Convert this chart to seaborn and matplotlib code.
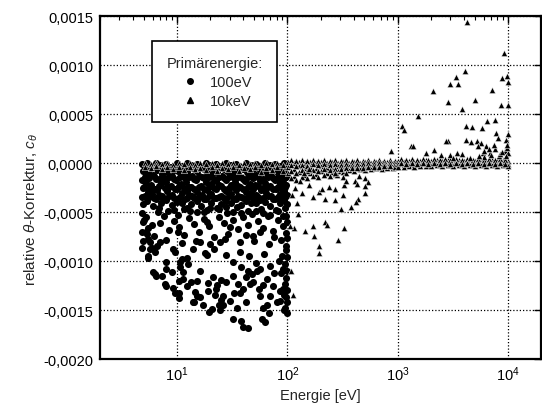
import matplotlib
matplotlib.use("Agg")
import pandas as pd
import seaborn as sns
import matplotlib.pyplot as plt
import matplotlib.ticker as mticker
from matplotlib.lines import Line2D

# values: (energy in eV, c_theta in units of 1e-4)
pts_100eV = [
    # dense band just below zero
    (4.8, -0.1), (4.9, -0.8), (4.8, -1.7), (4.9, -2.5), (4.8, -3.4), (4.9, -4.2), (4.8, -5.1),
    (4.9, -6.0), (4.8, -7.0), (4.9, -7.9), (4.8, -8.6),
    (5.3, 0.0), (5.4, -0.9), (5.2, -2.0), (5.4, -2.9), (5.3, -3.8), (5.2, -5.5), (5.3, -7.2),
    (5.9, -0.3), (6.0, -1.2), (5.8, -2.2), (5.9, -3.1), (6.1, -4.4), (5.9, -6.3),
    (6.5, 0.0), (6.6, -0.7), (6.4, -1.6), (6.6, -2.7), (6.5, -3.6), (6.7, -5.0),
    (7.2, -0.2), (7.3, -1.1), (7.1, -2.0), (7.3, -3.3), (7.2, -4.1),
    (8.0, -0.1), (8.1, -0.9), (7.9, -1.9), (8.1, -2.8), (8.0, -3.7), (8.2, -4.9),
    (8.9, -0.4), (9.0, -1.3), (8.8, -2.3), (9.0, -3.2), (8.9, -4.3),
    (9.9, 0.0), (10.1, -0.8), (9.8, -1.7), (10.0, -2.6), (9.9, -3.9), (10.1, -5.3),
    (11.0, -0.3), (11.2, -1.2), (10.9, -2.1), (11.1, -3.0), (11.0, -4.0),
    (12.2, 0.0), (12.4, -0.9), (12.1, -1.9), (12.3, -2.8), (12.2, -3.5), (12.4, -4.6),
    (13.5, -0.2), (13.7, -1.3), (13.4, -2.4), (13.6, -3.3), (13.5, -4.2),
    (15.0, -0.1), (15.2, -0.8), (14.8, -1.7), (15.1, -2.9), (15.0, -3.8), (15.3, -5.0),
    (16.6, -0.4), (16.8, -1.4), (16.5, -2.3), (16.7, -3.2), (16.6, -4.4),
    (18.4, 0.0), (18.6, -1.0), (18.2, -1.9), (18.5, -2.7), (18.4, -3.6), (18.7, -4.8),
    (20.4, -0.2), (20.7, -1.1), (20.2, -2.1), (20.5, -3.1), (20.4, -4.1),
    (22.6, -0.1), (22.9, -0.9), (22.4, -1.8), (22.7, -2.6), (22.6, -3.5), (23.0, -4.6),
    (25.0, -0.3), (25.4, -1.3), (24.8, -2.3), (25.2, -3.3), (25.0, -4.2),
    (27.8, 0.0), (28.1, -0.8), (27.5, -1.7), (27.9, -2.8), (27.8, -3.8), (28.3, -5.1),
    (30.8, -0.2), (31.2, -1.2), (30.5, -2.2), (31.0, -3.1), (30.8, -4.0),
    (34.0, -0.1), (34.5, -1.0), (33.7, -1.9), (34.2, -2.7), (34.0, -3.6), (34.6, -4.5),
    (37.8, -0.4), (38.3, -1.4), (37.4, -2.4), (38.0, -3.4), (37.8, -4.3),
    (42.0, 0.0), (42.6, -0.9), (41.5, -1.8), (42.3, -2.9), (42.0, -3.8),
    (46.5, -0.2), (47.1, -1.1), (46.0, -2.1), (46.8, -3.0), (46.5, -4.1), (47.3, -5.2),
    (51.5, -0.1), (52.2, -1.2), (51.0, -2.2), (51.8, -3.2), (51.5, -4.0),
    (57.0, -0.3), (57.8, -0.9), (56.4, -1.8), (57.3, -2.7), (57.0, -3.7), (58.0, -4.7),
    (63.0, 0.0), (63.9, -1.0), (62.3, -2.0), (63.4, -3.0), (63.0, -3.9),
    (70.0, -0.2), (71.0, -1.3), (69.2, -2.3), (70.4, -3.3), (70.0, -4.4),
    (78.0, -0.1), (79.0, -0.8), (77.1, -1.7), (78.4, -2.6), (78.0, -3.6), (79.3, -4.8),
    (86.0, -0.3), (87.1, -1.1), (85.0, -2.0), (86.5, -3.1), (86.0, -4.1),
    (93.0, 0.0), (94.0, -0.9), (92.0, -1.9), (93.5, -2.8), (93.0, -3.7), (94.3, -4.6),
    (99.0, -0.2), (100.0, -1.2), (98.0, -2.2), (99.5, -3.2), (99.0, -4.2),
    # in-between rows of the band
    (5.1, -0.5), (5.1, -1.4), (5.0, -2.4), (5.1, -3.3),
    (5.6, -0.6), (5.6, -1.5), (5.7, -2.5), (5.6, -3.4),
    (6.2, -0.4), (6.2, -1.3), (6.3, -2.6), (6.2, -3.5),
    (6.8, -0.5), (6.9, -1.6), (6.8, -2.3), (6.9, -3.2),
    (7.6, -0.6), (7.6, -1.5), (7.7, -2.5), (7.5, -3.6),
    (8.4, -0.4), (8.5, -1.4), (8.4, -2.4), (8.5, -3.3),
    (9.4, -0.7), (9.4, -1.6), (9.5, -2.6), (9.3, -3.5),
    (10.5, -0.5), (10.6, -1.4), (10.5, -2.3), (10.6, -3.4),
    (11.6, -0.6), (11.7, -1.5), (11.6, -2.5), (11.7, -3.6),
    (12.8, -0.4), (12.9, -1.4), (12.8, -2.4), (12.9, -3.2),
    (14.2, -0.6), (14.3, -1.6), (14.2, -2.6), (14.3, -3.5),
    (15.8, -0.5), (15.9, -1.3), (15.8, -2.4), (15.9, -3.4),
    (17.5, -0.6), (17.6, -1.5), (17.5, -2.6), (17.6, -3.6),
    (19.4, -0.4), (19.5, -1.4), (19.4, -2.4), (19.5, -3.3),
    (21.5, -0.6), (21.6, -1.6), (21.5, -2.5), (21.6, -3.5),
    (23.8, -0.5), (23.9, -1.4), (23.8, -2.2), (23.9, -3.4),
    (26.4, -0.6), (26.5, -1.5), (26.4, -2.6), (26.5, -3.5),
    (29.3, -0.4), (29.4, -1.4), (29.3, -2.5), (29.4, -3.3),
    (32.4, -0.6), (32.5, -1.5), (32.4, -2.4), (32.5, -3.6),
    (35.9, -0.5), (36.0, -1.4), (35.9, -2.3), (36.0, -3.3),
    (39.8, -0.6), (39.9, -1.6), (39.8, -2.6), (39.9, -3.5),
    (44.2, -0.4), (44.3, -1.4), (44.2, -2.4), (44.3, -3.4),
    (49.0, -0.6), (49.2, -1.5), (49.0, -2.6), (49.2, -3.5),
    (54.2, -0.5), (54.4, -1.4), (54.2, -2.3), (54.4, -3.4),
    (60.0, -0.6), (60.2, -1.6), (60.0, -2.5), (60.2, -3.5),
    (66.5, -0.4), (66.8, -1.4), (66.5, -2.4), (66.8, -3.3),
    (74.0, -0.6), (74.3, -1.5), (74.0, -2.6), (74.3, -3.6),
    (82.0, -0.5), (82.3, -1.4), (82.0, -2.4), (82.3, -3.4),
    (89.5, -0.6), (89.8, -1.6), (89.5, -2.5), (89.8, -3.5),
    (96.0, -0.5), (96.3, -1.4), (96.0, -2.4), (96.3, -3.3),
    # middle part
    (5.0, -5.8), (5.5, -6.6), (6.2, -7.4), (7.0, -6.1), (7.6, -5.4), (8.4, -6.8), (9.3, -5.9),
    (10.5, -6.5), (11.6, -7.3), (12.8, -5.6), (14.1, -6.2), (15.8, -7.0), (17.5, -5.7), (19.3, -6.4),
    (21.5, -7.5), (23.8, -5.5), (26.4, -6.1), (29.2, -7.2), (32.4, -5.8), (35.9, -6.7), (39.8, -5.5),
    (44.1, -6.3), (48.9, -7.4), (54.2, -5.9), (60.0, -6.6), (66.5, -5.4), (73.7, -6.9), (81.7, -5.8),
    (90.5, -6.4), (97.0, -7.1),
    (6.8, -4.6), (9.4, -4.8), (13.0, -4.9), (17.4, -5.0), (24.0, -4.7), (32.0, -5.0), (44.0, -4.9),
    (60.0, -5.1), (82.0, -4.9), (11.6, -4.7), (20.0, -4.6), (28.0, -4.5), (38.0, -5.1), (52.0, -4.9),
    (70.0, -5.3), (92.0, -5.4),
    (5.7, -8.0), (7.9, -7.8), (11.0, -8.1), (14.8, -7.9), (20.0, -8.2), (27.0, -7.7), (37.0, -8.0),
    (50.0, -7.9), (68.0, -8.2), (88.0, -7.8), (98.0, -8.4),
    (10.2, -7.0), (18.6, -6.0), (30.0, -6.5), (42.0, -7.3), (57.0, -7.0), (76.0, -7.5),
    # sparse lower part
    (5.2, -7.0), (5.4, -7.7), (5.7, -8.7), (5.5, -9.7), (6.6, -8.4), (7.0, -8.0), (6.1, -11.1),
    (6.5, -11.5), (8.0, -10.8), (7.9, -12.5), (9.2, -12.7), (10.3, -13.2), (11.3, -11.8),
    (12.2, -12.5), (14.3, -14.2), (15.1, -13.5), (17.3, -14.5), (19.3, -15.2), (22.7, -12.8),
    (24.0, -14.5), (26.0, -13.5), (28.0, -12.1), (32.0, -11.5), (37.0, -13.2), (42.0, -14.2),
    (49.0, -12.1), (56.0, -13.5), (65.0, -14.5), (74.0, -12.5), (80.0, -14.2),
    (14.0, -8.7), (16.0, -8.0), (18.6, -9.4), (21.4, -8.7), (24.4, -8.0), (28.0, -9.4),
    (10.7, -10.1), (9.2, -8.7), (12.2, -9.7), (32.0, -10.1), (37.0, -9.1), (56.0, -10.8),
    (18.0, -9.2), (16.0, -11.0), (15.0, -12.0), (19.0, -12.2), (21.0, -11.6), (23.0, -12.4),
    (25.0, -11.9), (14.5, -13.1), (16.0, -13.6), (19.0, -13.0), (22.0, -13.4), (25.0, -13.9),
    (20.6, -14.9), (24.4, -15.0), (26.0, -14.5), (32.0, -15.9), (38.0, -16.1), (40.0, -16.7),
    (44.0, -16.8), (59.0, -15.9), (63.0, -16.2),
    (33.0, -13.2), (36.0, -12.3), (40.0, -12.8), (46.0, -12.3), (48.0, -11.3), (53.0, -11.0),
    (55.0, -12.8), (60.0, -12.4), (44.0, -11.0), (42.0, -11.6), (38.0, -10.6),
    (45.0, -9.5), (52.0, -10.2), (62.0, -9.3), (70.0, -10.5), (75.0, -11.2), (66.0, -11.8),
    (70.0, -13.5), (85.0, -13.0), (60.0, -14.8), (68.0, -15.3), (35.0, -14.8), (30.0, -14.0),
    (5.9, -8.6), (6.3, -9.1), (5.5, -9.5), (8.0, -10.1), (9.5, -9.1), (11.0, -9.8), (10.6, -10.6),
    (12.6, -10.3), (6.3, -11.3), (7.3, -11.5), (9.0, -11.1), (11.4, -11.1), (10.3, -12.0),
    (7.7, -12.3), (9.5, -13.2), (10.3, -13.7), (13.5, -12.1), (14.0, -14.2),
    # column next to 100 eV
    (97.0, -8.8), (99.0, -9.6), (96.0, -10.3), (100.0, -11.0), (98.0, -11.7), (95.0, -12.3),
    (100.0, -12.9), (97.0, -13.6), (99.0, -14.2), (96.0, -14.8), (100.0, -15.3), (93.0, -15.0),
    (90.0, -9.5), (88.0, -11.2), (91.0, -12.8), (86.0, -14.0), (84.0, -10.0), (92.0, -10.8),
    (94.0, -13.4), (100.0, -6.0), (97.0, -5.4), (99.0, -7.6),
]

pts_10keV = [
    # grey band around zero
    (5.1, 0.0), (5.1, -0.4), (5.8, -0.1), (5.8, -0.5), (6.4, 0.0), (6.4, -0.3), (7.3, -0.1),
    (7.3, -0.6), (8.1, 0.0), (8.1, -0.4), (9.2, -0.2), (9.2, -0.6), (10.3, 0.0), (10.3, -0.4),
    (11.5, -0.1), (11.5, -0.7), (13.0, 0.0), (13.0, -0.4), (14.4, -0.2), (14.4, -0.6),
    (16.3, 0.0), (16.3, -0.5), (18.1, -0.1), (18.1, -0.7), (20.6, 0.0), (20.6, -0.4),
    (22.9, -0.2), (22.9, -0.8), (25.7, 0.0), (25.7, -0.5), (28.8, -0.1), (28.8, -0.6),
    (32.1, 0.0), (32.1, -0.4), (36.3, -0.2), (36.3, -0.8), (40.4, 0.0), (40.4, -0.5),
    (45.5, -0.1), (45.5, -0.6), (51.0, 0.0), (51.0, -0.4), (57.4, -0.2), (57.4, -0.9),
    (64.0, 0.0), (64.0, -0.5), (72.0, -0.1), (72.0, -0.7), (80.5, 0.0), (80.5, -0.4),
    (90.3, -0.2), (90.3, -0.8),
    (101, 0.1), (101, -0.4), (101, -1.0), (114, 0.0), (114, -0.6), (114, -1.3), (127, 0.1),
    (127, -0.3), (127, -0.9), (143, 0.0), (143, -0.5), (143, -1.2), (160, 0.1), (160, -0.4),
    (160, -1.0), (181, 0.0), (181, -0.6), (181, -1.1), (203, 0.1), (203, -0.3), (203, -0.8),
    (227, 0.0), (227, -0.5), (227, -1.0), (256, 0.1), (256, -0.4), (256, -0.9), (286, 0.0),
    (286, -0.3), (286, -0.8), (322, 0.1), (322, -0.4), (322, -0.9), (360, 0.0), (360, -0.3),
    (360, -0.7), (405, 0.1), (405, -0.4), (405, -0.8), (452, 0.0), (452, -0.3), (452, -0.6),
    (508, 0.1), (508, -0.3), (508, -0.7), (570, 0.0), (570, -0.3), (570, -0.6), (640, 0.1),
    (640, -0.2), (640, -0.5), (715, 0.0), (715, -0.3), (715, -0.6), (802, 0.1), (802, -0.2),
    (802, -0.5), (900, 0.0), (900, -0.3), (900, -0.5),
    (107, 0.3), (107, -0.2), (107, -0.8), (107, -1.5), (120, 0.2), (120, -0.3), (120, -1.0),
    (120, -1.7), (135, 0.3), (135, -0.2), (135, -0.7), (135, -1.4), (151, 0.2), (151, -0.3),
    (151, -0.8), (151, -1.5), (170, 0.3), (170, -0.1), (170, -0.7), (170, -1.3), (191, 0.2),
    (191, -0.2), (191, -0.8), (191, -1.4), (215, 0.3), (215, -0.1), (215, -0.6), (215, -1.2),
    (241, 0.2), (241, -0.2), (241, -0.7), (241, -1.3), (270, 0.3), (270, -0.1), (270, -0.6),
    (270, -1.1), (304, 0.2), (304, -0.2), (304, -0.6), (340, 0.3), (340, -0.1), (340, -0.5),
    (340, -1.0), (382, 0.2), (382, -0.2), (382, -0.5), (428, 0.3), (428, -0.1), (428, -0.5),
    (480, 0.2), (480, -0.1), (480, -0.5), (538, 0.3), (538, 0.0), (538, -0.4), (604, 0.2),
    (604, -0.1), (604, -0.4), (677, 0.3), (677, 0.0), (677, -0.4), (757, 0.2), (757, -0.1),
    (757, -0.3), (850, 0.3), (850, 0.0), (850, -0.3), (953, 0.2), (953, -0.1), (953, -0.4),
    (1010, 0.2), (1010, -0.1), (1010, -0.4), (1130, 0.1), (1130, -0.2), (1130, -0.4),
    (1270, 0.2), (1270, -0.1), (1270, -0.3), (1420, 0.1), (1420, -0.2), (1420, -0.4),
    (1600, 0.2), (1600, -0.1), (1600, -0.3), (1790, 0.3), (1790, 0.0), (1790, -0.3),
    (2010, 0.2), (2010, -0.1), (2010, -0.3), (2260, 0.3), (2260, 0.0), (2260, -0.2),
    (2530, 0.2), (2530, -0.1), (2530, -0.3), (2840, 0.3), (2840, 0.0), (2840, -0.2),
    (3180, 0.2), (3180, -0.1), (3180, -0.3), (3570, 0.3), (3570, 0.0), (3570, -0.2),
    (4010, 0.2), (4010, -0.1), (4010, -0.3), (4490, 0.3), (4490, 0.0), (4490, -0.2),
    (5050, 0.2), (5050, -0.1), (5050, -0.3), (5660, 0.3), (5660, 0.0), (5660, -0.2),
    (6350, 0.2), (6350, -0.1), (6350, -0.3), (7120, 0.3), (7120, 0.0), (7120, -0.2),
    (7990, 0.2), (7990, -0.1), (7990, -0.3), (8960, 0.3), (8960, 0.0), (8960, -0.2),
    (9900, 0.2), (9900, -0.1), (9900, -0.3),
    (1070, 0.4), (1070, 0.0), (1200, 0.3), (1200, -0.1), (1345, 0.4), (1345, 0.0),
    (1510, 0.3), (1510, -0.1), (1695, 0.4), (1695, 0.0), (1900, 0.3), (1900, -0.1),
    (2135, 0.4), (2135, 0.0), (2395, 0.3), (2395, -0.1), (2685, 0.4), (2685, 0.0),
    (3010, 0.3), (3010, -0.1), (3375, 0.4), (3375, 0.0), (3790, 0.3), (3790, -0.1),
    (4250, 0.4), (4250, 0.0), (4770, 0.3), (4770, -0.1), (5350, 0.4), (5350, 0.0),
    (6000, 0.3), (6000, -0.1), (6730, 0.4), (6730, 0.0), (7550, 0.3), (7550, -0.1),
    (8470, 0.4), (8470, 0.0), (9450, 0.3), (9450, -0.1),
    # scattered below zero, 100 eV - 1 keV
    (158, -2.2), (169, -3.4), (195, -2.9), (206, -2.6), (237, -2.4), (272, -2.6), (221, -3.6),
    (272, -3.7), (322, -3.2), (327, -2.2), (284, -1.2), (322, -1.4), (340, -1.8), (414, -1.8),
    (425, -2.1), (442, -1.3), (509, -1.5), (538, -1.9), (509, -2.3), (436, -3.6), (418, -3.9),
    (381, -4.5), (509, -3.0), (309, -4.7), (115, -6.6), (144, -6.9), (169, -6.4), (174, -7.4),
    (221, -6.0), (227, -6.3), (327, -6.6), (285, -7.8), (195, -8.4), (195, -9.2), (140, -1.0),
    (157, -0.6), (272, -1.0), (105, -6.4), (108, -11.0), (112, -13.4), (118, -2.5), (122, -4.0),
    (110, -3.2), (130, -1.8), (135, -3.0), (125, -5.2),
    # scattered above zero, 1 keV - 10 keV
    (4290, 14.4), (9180, 11.3), (4110, 9.4), (3390, 8.8), (2990, 8.1), (3530, 8.1), (2085, 7.4),
    (8800, 8.7), (9840, 8.9), (10000, 8.3), (7230, 7.5), (2830, 6.3), (5070, 6.5), (3790, 5.5),
    (8730, 5.9), (10000, 6.0), (1540, 4.8), (1097, 3.8), (1150, 3.4), (4180, 3.8), (4740, 3.7),
    (5830, 3.6), (6430, 4.3), (7700, 4.4), (7830, 3.1), (10000, 3.0), (8060, 2.6), (2830, 2.3),
    (4180, 2.4), (4580, 2.2), (5210, 2.3), (5680, 2.1), (9660, 2.4), (1330, 1.8), (1800, 1.05),
    (2130, 1.4), (2490, 0.85), (2990, 0.8), (3450, 1.1), (3790, 0.9), (5350, 1.8), (6290, 1.8),
    (5950, 1.1), (6850, 1.05), (7700, 1.5), (9350, 1.3), (9900, 1.1), (8300, 0.7), (867, 1.3),
    (1370, 1.8), (2720, 2.3), (6000, 0.6), (7000, 0.8), (8500, 1.0), (9500, 0.7), (4500, 0.5),
    (3200, 0.5), (5500, 0.7), (9800, 1.6), (9700, 1.9), (8900, 1.2), (7500, 1.9), (6700, 1.5),
    (6100, 1.3),
]

yticks = [0.0015, 0.0010, 0.0005, 0.0, -0.0005, -0.0010, -0.0015, -0.0020]

df100 = pd.DataFrame(pts_100eV, columns=["E", "c4"])
df10k = pd.DataFrame(pts_10keV, columns=["E", "c4"])
df100["c"] = df100["c4"] * 1e-4
df10k["c"] = df10k["c4"] * 1e-4

sns.set_style("white")
plt.rcParams["font.family"] = ["Liberation Sans", "DejaVu Sans"]
plt.rcParams["mathtext.fontset"] = "custom"
plt.rcParams["mathtext.rm"] = "Liberation Sans"
plt.rcParams["mathtext.it"] = "Liberation Sans:italic"
plt.rcParams["font.size"] = 10.5

fig = plt.figure(figsize=(5.42, 4.10), dpi=100)
ax = fig.add_axes([0.1845, 0.1212, 0.814, 0.8366])

sns.scatterplot(data=df100, x="E", y="c", marker="o", color="black", s=26,
                linewidth=0, ax=ax, zorder=3)
sns.scatterplot(data=df10k, x="E", y="c", marker="^", color="black", s=20,
                edgecolor="white", linewidth=0.35, ax=ax, zorder=4)

ax.set_xscale("log")
ax.set_xlim(2, 2e4)
ax.set_ylim(-0.0020, 0.0015)
ax.set_yticks(yticks)
ax.yaxis.set_major_formatter(mticker.FuncFormatter(lambda v, _: f"{v:.4f}".replace(".", ",")))

ax.grid(True, which="major", color="black", linestyle=(0, (1, 1.6)), linewidth=0.9)
ax.set_axisbelow(True)
for sp in ax.spines.values():
    sp.set_linewidth(1.6)
    sp.set_color("black")
ax.tick_params(which="both", direction="in", top=True, right=True, colors="black",
               labelsize=10.5)
ax.tick_params(which="major", length=5, width=1)
ax.tick_params(which="minor", length=3, width=0.8)
ax.tick_params(axis="x", pad=4)
ax.tick_params(axis="y", pad=5)

ax.set_xlabel("Energie [eV]", fontsize=10.5, labelpad=3)
ax.set_ylabel("relative $\\theta$-Korrektur, $c_\\theta$", fontsize=11)
ax.yaxis.set_label_coords(-0.135, 0.44)

handles = [
    Line2D([], [], marker="o", color="black", linestyle="none", markersize=4),
    Line2D([], [], marker="^", color="black", linestyle="none", markersize=4),
]
leg = ax.legend(handles, ["100eV", "10keV"], title="Primärenergie:", loc="upper left",
                bbox_to_anchor=(0.118, 0.928), borderaxespad=0, fancybox=False,
                framealpha=1, edgecolor="black", fontsize=10.5, title_fontsize=10.5,
                borderpad=1.0, labelspacing=0.35, handlelength=1.7, handletextpad=0.5)
leg.get_frame().set_linewidth(1.2)
leg.set_zorder(10)

fig.savefig("out.png", dpi=100)
